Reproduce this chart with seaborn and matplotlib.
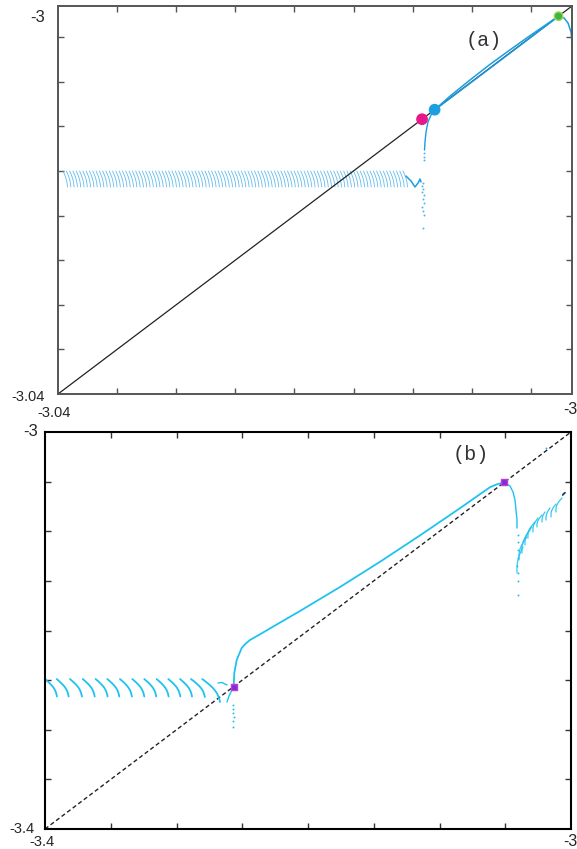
import numpy as np
import pandas as pd
import matplotlib
matplotlib.use("Agg")
import matplotlib.pyplot as plt
import seaborn as sns

sns.set_style("ticks")
plt.rcParams['font.family'] = ['Liberation Sans', 'DejaVu Sans']

W, H = 577, 849

# ----------------------------------------------------------------- panel (a)
a_lim = (-3.04, -3.0)
a_ticks = [-3.0354, -3.0308, -3.0262, -3.0216, -3.0170, -3.0124, -3.0078, -3.0032]

# fixed points lying on the diagonal: unstable (pink), saddle (blue), stable (green)
a_fix_xy = [-3.01167, -3.01069, -3.00105]
a_fix_col = ["#e8178a", "#1aa0e2", "#3cb44a"]
a_fix_edge = ["#e8178a", "#1aa0e2", "#a8d84a"]

# branch leaving the saddle towards the stable point (upper strand)
a_up_x = [-3.01066, -3.00949, -3.00794, -3.00638, -3.00482, -3.00327, -3.00210, -3.00101]
a_up_y = [-3.01066, -3.00929, -3.00763, -3.00602, -3.00452, -3.00306, -3.00200, -3.00101]
# strand hugging the diagonal
a_dg_y = [-3.01069, -3.00953, -3.00798, -3.00642, -3.00486, -3.00330, -3.00212, -3.00103]
# branch dropping below the saddle
a_dn_x = [-3.01066, -3.01097, -3.01121, -3.01136, -3.01144, -3.01148]
a_dn_y = [-3.01072, -3.01124, -3.01196, -3.01299, -3.01402, -3.01485]
# branch from the stable point to the right border
a_rt_x = [-3.00105, -3.00062, -3.00031, -3.00008, -3.00000]
a_rt_y = [-3.00110, -3.00124, -3.00175, -3.00268, -3.00371]
# notch at the end of the oscillating band
a_v_x = [-3.01292, -3.01253, -3.01222, -3.01198, -3.01183, -3.01175]
a_v_y = [-3.01753, -3.01804, -3.01866, -3.01825, -3.01784, -3.01814]
# isolated iterates
a_pts_x = [-3.01152, -3.01152, -3.01152, -3.01160, -3.01167, -3.01160, -3.01167,
           -3.01152, -3.01160, -3.01152, -3.01167, -3.01160, -3.01152, -3.01160]
a_pts_y = [-3.01515, -3.01557, -3.01588, -3.01825, -3.01856, -3.01887, -3.01918,
           -3.01948, -3.01990, -3.02031, -3.02072, -3.02113, -3.02155, -3.02289]
# oscillating band: first/last stroke, stroke count, stroke top/bottom
a_band_first, a_band_last, a_band_n = -3.03961, -3.01315, 104
a_band_top, a_band_bot, a_band_dx = -3.01701, -3.01866, 0.00035

# ----------------------------------------------------------------- panel (b)
b_lim = (-3.4, -3.0)
b_ticks = [-3.35, -3.3, -3.25, -3.2, -3.15, -3.1, -3.05]

b_fix_xy = [-3.2565, -3.0508]

b_main_x = [-3.2565, -3.25605, -3.25422, -3.25042, -3.24753, -3.24411, -3.23650,
            -3.22509, -3.20608, -3.17566, -3.14525, -3.11483, -3.08441, -3.06160,
            -3.05627, -3.0508]
b_main_y = [-3.2565, -3.24282, -3.22972, -3.21763, -3.21340, -3.20957, -3.20383,
            -3.19496, -3.18035, -3.15617, -3.13078, -3.10418, -3.07678, -3.05562,
            -3.05270, -3.0508]
b_low_x = [-3.2565, -3.25779, -3.26007, -3.26160]
b_low_y = [-3.2565, -3.25995, -3.26600, -3.27204]
b_hook_x = [-3.26844, -3.26540, -3.26160]
b_hook_y = [-3.25290, -3.25240, -3.25491]
b_drop_x = [-3.0508, -3.04639, -3.04410, -3.04258, -3.04182, -3.04106, -3.04106]
b_drop_y = [-3.0508, -3.05441, -3.06045, -3.06851, -3.07859, -3.08867, -3.09673]
b_pts_x = [-3.25703, -3.25703, -3.25703, -3.25627, -3.25703, -3.25703,
           -3.04030, -3.04030, -3.04030, -3.04030, -3.04106, -3.04030, -3.04030, -3.04030,
           -3.01901]
b_pts_y = [-3.27506, -3.27909, -3.28312, -3.28715, -3.29118, -3.29723,
           -3.10378, -3.11083, -3.11889, -3.12695, -3.13501, -3.14207, -3.15013, -3.16423,
           -3.01646]

# arcs on the left (top-left start, width, bottom)
b_arc_x0 = [-3.4000, -3.3911, -3.3810, -3.3713, -3.3615, -3.3526, -3.3430,
            -3.3336, -3.3245, -3.3151, -3.3062, -3.2973, -3.2890, -3.2804]
b_arc_dx = [0.0091] * 12 + [0.0106, 0.0135]
b_arc_bot = [-3.2665] * 12 + [-3.2670, -3.2720]
b_arc_top = -3.2489

# fan of arcs below-right of the upper fixed point (bottom-left -> top-right)
b_fan_xl = [-3.00631, -3.01141, -3.01521, -3.01901, -3.02205, -3.02585,
            -3.02890, -3.03270, -3.03498, -3.03726, -3.03954, -3.04106]
b_fan_xr = [-3.00456, -3.00684, -3.01141, -3.01597, -3.01977, -3.02205,
            -3.02509, -3.02737, -3.02966, -3.03118, -3.03346, -3.03650]
b_fan_yb = [-3.06348, -3.08060, -3.08564, -3.08867, -3.09068, -3.09572,
            -3.10076, -3.10680, -3.11385, -3.12191, -3.12897, -3.14207]
b_fan_yt = [-3.06116, -3.06650, -3.07254, -3.07657, -3.08060, -3.08363,
            -3.08665, -3.09068, -3.09572, -3.09874, -3.10579, -3.11587]

BLUE_A = "#1b9de2"
BAND_A = "#52b4ea"
CYAN_B = "#1fc3ef"


def strokes(x0s, x1s, y0s, y1s, bend, npts=9):
    """Curved strokes from (x0, y0) to (x1, y1); bend pushes the middle sideways."""
    rows = []
    t = np.linspace(0, 1, npts)
    for k, (x0, x1, y0, y1) in enumerate(zip(x0s, x1s, y0s, y1s)):
        xs = x0 + (x1 - x0) * (t + bend * np.sin(np.pi * t))
        ys = y0 + (y1 - y0) * t
        rows.append(pd.DataFrame({"x": xs, "y": ys, "u": k}))
    return pd.concat(rows, ignore_index=True)


def line(ax, xs, ys, **kw):
    sns.lineplot(x=xs, y=ys, sort=False, estimator=None, ax=ax, **kw)


def style_axes(ax, lim, ticks, spine_col, spine_w, tick_col):
    ax.set_xlim(*lim)
    ax.set_ylim(*lim)
    ax.set_xticks(ticks)
    ax.set_yticks(ticks)
    ax.set_xticklabels([])
    ax.set_yticklabels([])
    ax.set_xlabel("")
    ax.set_ylabel("")
    ax.tick_params(direction="in", length=4, width=1.0, color=tick_col,
                   top=True, right=True, bottom=True, left=True)
    for s in ax.spines.values():
        s.set_visible(True)
        s.set_color(spine_col)
        s.set_linewidth(spine_w)
    ax.set_facecolor("white")


fig = plt.figure(figsize=(W / 100, H / 100), dpi=100)
fig.patch.set_facecolor("white")

# ---------------------------------------------------------------- draw (a)
axa = fig.add_axes([58 / W, 1 - 394 / H, 514 / W, 388 / H])

band_x0 = np.linspace(a_band_first, a_band_last, a_band_n)
band = strokes(band_x0, band_x0 + a_band_dx, [a_band_top] * a_band_n,
               [a_band_bot] * a_band_n, bend=0.2)
sns.lineplot(data=band, x="x", y="y", units="u", estimator=None, sort=False,
             color=BAND_A, lw=0.6, alpha=0.9, ax=axa)
line(axa, a_v_x, a_v_y, color=BLUE_A, lw=1.1)

line(axa, list(a_lim), list(a_lim), color="#222222", lw=0.9)
line(axa, a_up_x, a_dg_y, color=BLUE_A, lw=1.0)
line(axa, a_up_x, a_up_y, color=BLUE_A, lw=1.1)
line(axa, a_dn_x, a_dn_y, color=BLUE_A, lw=1.0)
line(axa, a_rt_x, a_rt_y, color=BLUE_A, lw=1.1)
sns.scatterplot(x=a_pts_x, y=a_pts_y, s=2, color=BAND_A, linewidth=0, ax=axa)
sns.scatterplot(x=a_fix_xy, y=a_fix_xy, hue=[0, 1, 2], palette=a_fix_col,
                size=[0, 1, 2], sizes={0: 55, 1: 55, 2: 38}, legend=False,
                edgecolor=a_fix_edge, linewidth=1.0, ax=axa, zorder=5)
style_axes(axa, a_lim, a_ticks, "#555555", 1.4, "#555555")

# ---------------------------------------------------------------- draw (b)
axb = fig.add_axes([45 / W, 1 - 829 / H, 526 / W, 397 / H])

line(axb, list(b_lim), list(b_lim), color="#222222", lw=1.0, linestyle=(0, (3, 2)))
n_arc = len(b_arc_x0)
arcs = strokes(b_arc_x0, [x + d for x, d in zip(b_arc_x0, b_arc_dx)],
               [b_arc_top] * n_arc, b_arc_bot, bend=0.22)
sns.lineplot(data=arcs, x="x", y="y", units="u", estimator=None, sort=False,
             color=CYAN_B, lw=1.3, ax=axb)
fan = strokes(b_fan_xl, b_fan_xr, b_fan_yb, b_fan_yt, bend=-0.35)
sns.lineplot(data=fan, x="x", y="y", units="u", estimator=None, sort=False,
             color=CYAN_B, lw=0.9, alpha=0.9, ax=axb)
line(axb, b_fan_xl[:1] + b_fan_xr[:1], b_fan_yb[:1] + b_fan_yt[:1], color="#1a3a55", lw=1.2)
line(axb, b_main_x, b_main_y, color=CYAN_B, lw=1.3)
line(axb, b_low_x, b_low_y, color=CYAN_B, lw=1.0)
line(axb, b_hook_x, b_hook_y, color=CYAN_B, lw=1.0)
line(axb, b_drop_x, b_drop_y, color=CYAN_B, lw=1.0)
sns.scatterplot(x=b_pts_x, y=b_pts_y, s=2, color=CYAN_B, linewidth=0, ax=axb)
sns.scatterplot(x=b_fix_xy, y=b_fix_xy, marker="s", s=18, color="#7b2fd8",
                edgecolor="#c23ad6", linewidth=1.0, ax=axb, zorder=5)
style_axes(axb, b_lim, b_ticks, "black", 1.5, "#333333")

# ---------------------------------------------------------------- labels
def label(px, py, s, ha="center", size=10.5, **kw):
    fig.text(px / W, 1 - py / H, s, ha=ha, va="center", fontsize=size, **kw)

label(45, 18, "-3", ha="right", size=12)
label(45, 397, "-3.04", ha="right", size=10.5)
label(54, 413, "-3.04", size=10.5)
label(577, 410, "-3", ha="right", size=11.5)
label(484, 40, "(a)", size=14.5, family="Liberation Mono", color="#333333")

label(38, 431, "-3", ha="right", size=12)
label(35, 829, "-3.4", ha="right", size=10.5)
label(42, 842, "-3.4", size=10.5)
label(577, 841, "-3", ha="right", size=11.5)
label(471, 455, "(b)", size=14.5, family="Liberation Mono", color="#333333")

fig.savefig("out.png", dpi=100, facecolor="white")
